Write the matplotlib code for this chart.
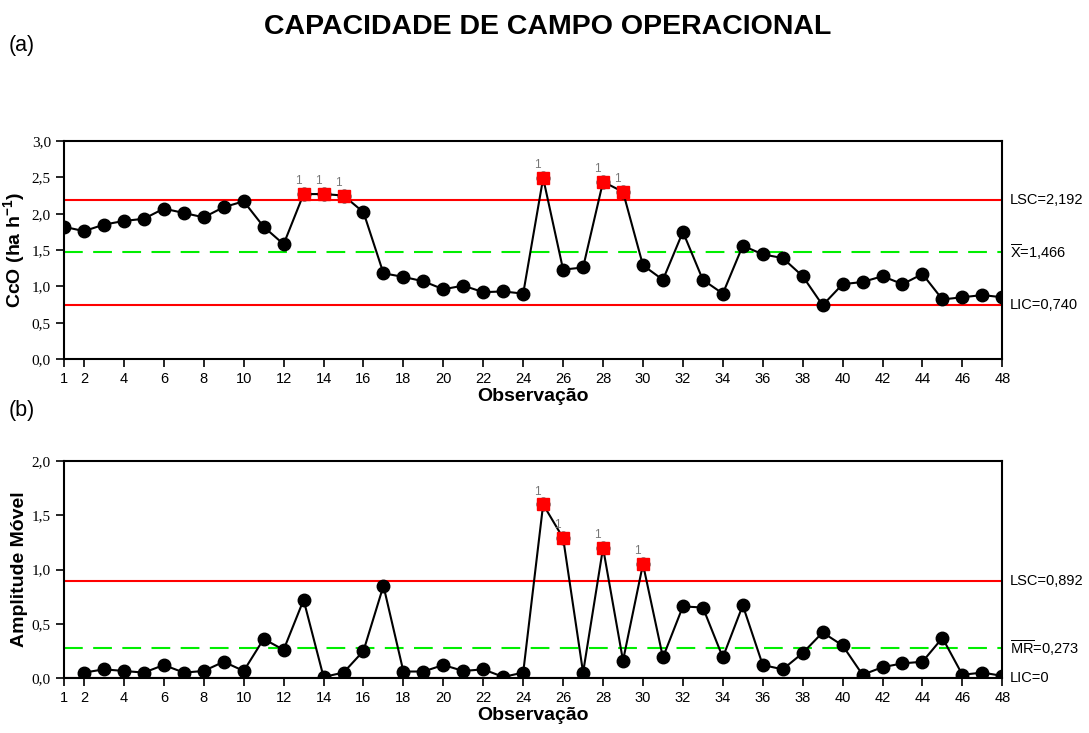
import matplotlib.pyplot as plt
import numpy as np

plt.rcParams['font.family'] = ['Liberation Sans', 'DejaVu Sans']
plt.rcParams['mathtext.fontset'] = 'custom'
plt.rcParams['mathtext.rm'] = 'Liberation Sans'
plt.rcParams['mathtext.bf'] = 'Liberation Sans:bold'

# observations
obs = np.arange(1, 49)

# individual values, CcO (ha h-1)
cco = [1.82, 1.76, 1.85, 1.90, 1.93, 2.07, 2.01, 1.95, 2.09, 2.17,
       1.82, 1.58, 2.27, 2.27, 2.25, 2.02, 1.18, 1.13, 1.07, 0.96,
       1.01, 0.92, 0.93, 0.90, 2.49, 1.23, 1.26, 2.44, 2.30, 1.29,
       1.09, 1.75, 1.09, 0.90, 1.56, 1.44, 1.39, 1.14, 0.74, 1.03,
       1.06, 1.14, 1.03, 1.17, 0.82, 0.85, 0.88, 0.85]

# moving range (starts at observation 2)
mr_obs = np.arange(2, 49)
mr = [0.05, 0.08, 0.065, 0.05, 0.12, 0.05, 0.065, 0.15, 0.065, 0.36,
      0.26, 0.72, 0.01, 0.05, 0.25, 0.85, 0.06, 0.06, 0.12, 0.065,
      0.08, 0.01, 0.05, 1.60, 1.29, 0.05, 1.20, 0.16, 1.05, 0.19,
      0.66, 0.65, 0.19, 0.67, 0.12, 0.08, 0.23, 0.42, 0.30, 0.03,
      0.10, 0.135, 0.15, 0.37, 0.03, 0.05, 0.02]

# control limits
i_lsc, i_mean, i_lic = 2.192, 1.466, 0.740
mr_lsc, mr_mean, mr_lic = 0.892, 0.273, 0.0

xticks = [1] + list(range(2, 49, 2))

fig = plt.figure(figsize=(10.89, 7.33), dpi=100)
ax1 = fig.add_axes([0.0588, 0.5102, 0.8616, 0.2974])
ax2 = fig.add_axes([0.0588, 0.0750, 0.8616, 0.2960])


def control_chart(ax, x, y, lsc, mean, lic, ylim, yticks, ylabel, labels):
    x = np.asarray(x)
    y = np.asarray(y)
    ax.axhline(lsc, color='#ff0000', lw=1.5, zorder=1)
    ax.axhline(mean, color='#00ee00', lw=1.5, ls=(0, (9, 5)), zorder=1)
    ax.axhline(lic, color='#ff0000' if lic > 0 else '#8b0000', lw=1.5, zorder=1)
    ax.plot(x, y, color='black', lw=1.5, marker='o', ms=9, mfc='black',
            mec='black', zorder=3)
    out = y > lsc
    ax.plot(x[out], y[out], ls='none', marker='s', ms=8.5, mfc='#ff0000',
            mec='#ff0000', zorder=4)
    for xi, yi in zip(x[out], y[out]):
        ax.annotate('1', (xi, yi), xytext=(-4, 5), textcoords='offset points',
                    fontsize=8.5, color='#777777', ha='center', va='bottom')
    ax.set_xlim(1, 48)
    ax.set_ylim(*ylim)
    ax.set_xticks(xticks)
    ax.set_yticks(yticks)
    ax.set_yticklabels([f'{v:.1f}'.replace('.', ',') for v in yticks],
                       family='Liberation Serif', fontsize=11)
    ax.tick_params(axis='x', labelsize=10.5, length=6, width=1.2, direction='out')
    ax.tick_params(axis='y', length=6, width=1.2, direction='out')
    for s in ax.spines.values():
        s.set_linewidth(1.5)
    ax.set_xlabel('Observação', fontsize=14, fontweight='bold', labelpad=1)
    ax.set_ylabel(ylabel, fontsize=14, fontweight='bold', labelpad=3)
    for val, txt in labels:
        ax.text(1.008, val, txt, transform=ax.get_yaxis_transform(),
                fontsize=10.5, va='center', ha='left')


control_chart(ax1, obs, cco, i_lsc, i_mean, i_lic, (0, 3.0),
              [0, 0.5, 1.0, 1.5, 2.0, 2.5, 3.0], r'CcO (ha h$^{\mathbf{-1}}$)',
              [(i_lsc, 'LSC=2,192'), (i_mean, r'$\overline{\mathrm{X}}$=1,466'),
               (i_lic, 'LIC=0,740')])
control_chart(ax2, mr_obs, mr, mr_lsc, mr_mean, mr_lic, (0, 2.0),
              [0, 0.5, 1.0, 1.5, 2.0], 'Amplitude Móvel',
              [(mr_lsc, 'LSC=0,892'), (mr_mean, r'$\overline{\mathrm{MR}}$=0,273'),
               (mr_lic, 'LIC=0')])

fig.text(0.503, 0.963, 'CAPACIDADE DE CAMPO OPERACIONAL', fontsize=20.5,
         fontweight='bold', ha='center', va='center')
fig.text(0.008, 0.938, '(a)', fontsize=15.5, ha='left', va='center')
fig.text(0.008, 0.440, '(b)', fontsize=15.5, ha='left', va='center')

fig.savefig('out.png', dpi=100)
